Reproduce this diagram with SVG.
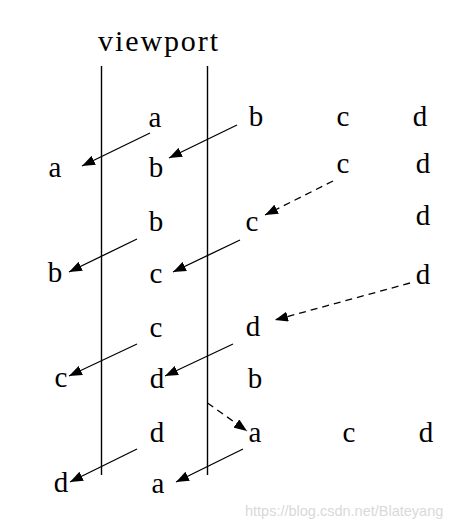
<svg xmlns="http://www.w3.org/2000/svg" width="469" height="530" viewBox="0 0 469 530">
<style>
.t{font-family:"Liberation Serif","Times New Roman",serif;font-size:29px;fill:#000;text-anchor:middle}
.vp{font-family:"Liberation Serif","Times New Roman",serif;font-size:30px;fill:#000}
.ln{stroke:#000;stroke-width:1.4;fill:none}
.ar{stroke:#000;stroke-width:1.3;fill:none;marker-end:url(#ah)}
.da{stroke:#000;stroke-width:1.3;fill:none;stroke-dasharray:7,5;marker-end:url(#ah)}
.wm{font-family:"Liberation Sans",Arial,sans-serif;font-size:14.5px;fill:#d9d9d9}
</style>
<defs>
<marker id="ah" markerUnits="userSpaceOnUse" markerWidth="14" markerHeight="10" refX="13" refY="5" orient="auto" viewBox="0 0 14 10">
<path d="M0,0 L13,5 L0,10 z" fill="#000"/>
</marker>
</defs>
<rect width="469" height="530" fill="#fff"/>
<g id="viewport">
<text class="vp" x="98" y="51" textLength="120" lengthAdjust="spacing">viewport</text>
<line class="ln" x1="101.5" y1="66" x2="101.5" y2="475"/>
<line class="ln" x1="207.5" y1="66" x2="207.5" y2="475"/>
</g>
<g id="letters">
<text class="t" x="155" y="127">a</text>
<text class="t" x="256" y="126">b</text>
<text class="t" x="343" y="126">c</text>
<text class="t" x="420" y="126">d</text>
<text class="t" x="55" y="177">a</text>
<text class="t" x="156" y="177">b</text>
<text class="t" x="343" y="173">c</text>
<text class="t" x="423" y="173">d</text>
<text class="t" x="156" y="231">b</text>
<text class="t" x="252" y="231">c</text>
<text class="t" x="423" y="225">d</text>
<text class="t" x="55" y="282">b</text>
<text class="t" x="156" y="283">c</text>
<text class="t" x="423" y="284">d</text>
<text class="t" x="156" y="337">c</text>
<text class="t" x="253" y="336">d</text>
<text class="t" x="61" y="387">c</text>
<text class="t" x="157" y="388">d</text>
<text class="t" x="255" y="388">b</text>
<text class="t" x="157" y="442">d</text>
<text class="t" x="255" y="442">a</text>
<text class="t" x="349" y="442">c</text>
<text class="t" x="426" y="442">d</text>
<text class="t" x="61" y="492">d</text>
<text class="t" x="158" y="493">a</text>
</g>
<g id="connectors">
<line class="ar" x1="150" y1="133" x2="82" y2="166"/>
<line class="ar" x1="237" y1="125" x2="169" y2="158"/>
<line class="ar" x1="137" y1="239" x2="69" y2="272"/>
<line class="ar" x1="240" y1="240" x2="173" y2="272"/>
<line class="ar" x1="137" y1="344" x2="69" y2="376"/>
<line class="ar" x1="233" y1="344" x2="165" y2="376"/>
<line class="ar" x1="137" y1="449" x2="70" y2="482"/>
<line class="ar" x1="243" y1="449" x2="176" y2="482"/>
<line class="da" x1="333" y1="181" x2="265" y2="215"/>
<line class="da" x1="410" y1="283" x2="275" y2="320"/>
<line class="da" x1="207.5" y1="403" x2="247" y2="431"/>
</g>
<text class="wm" x="245" y="516">https://blog.csdn.net/Blateyang</text>
</svg>
